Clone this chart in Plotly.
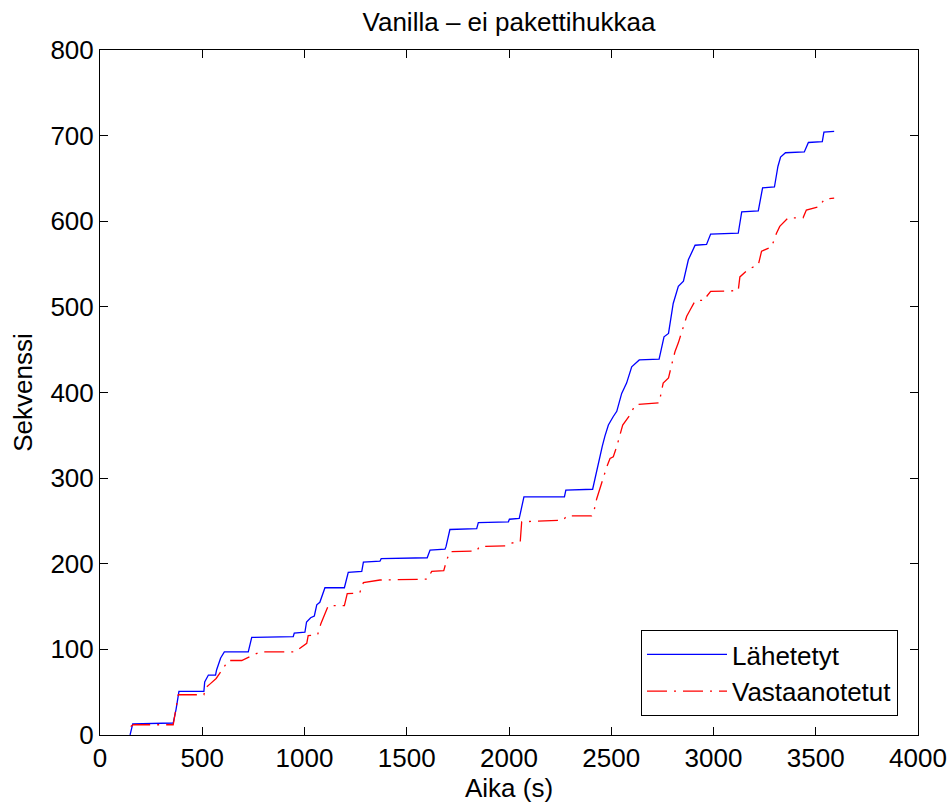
import plotly.graph_objects as go

# Lähetetyt (sent) — time (s), sequence
sent_t = [147, 160, 358, 372, 386, 508, 512, 530, 565, 570, 590, 608, 725, 742, 945, 950,
          1002, 1010, 1030, 1048, 1060, 1075, 1100, 1195, 1214, 1280, 1288, 1369, 1375, 1600,
          1614, 1687, 1692, 1700, 1711, 1842, 1850, 1997, 2002, 2050, 2073, 2271, 2278, 2409,
          2429, 2456, 2469, 2486, 2510, 2527, 2551, 2575, 2600, 2637, 2734, 2758, 2780, 2803,
          2828, 2853, 2877, 2910, 2966, 2986, 3121, 3138, 3219, 3240, 3298, 3315, 3328, 3352,
          3444, 3464, 3532, 3540, 3590]
sent_seq = [0, 13, 14, 30, 51, 51, 62, 70, 70, 76, 90, 97, 97, 114, 115, 119,
            120, 132, 137, 139, 152, 155, 172, 172, 190, 191, 202, 203, 206, 207,
            216, 217, 220, 230, 240, 241, 248, 249, 252, 253, 278, 278, 286, 287,
            310, 337, 349, 362, 372, 378, 399, 411, 430, 438, 439, 465, 469, 504,
            524, 530, 555, 572, 573, 585, 586, 611, 612, 639, 640, 664, 675, 680,
            681, 692, 693, 704, 705]

# Vastaanotetut (received)
recv_t = [150, 163, 358, 370, 383, 508, 515, 540, 568, 603, 627, 693, 720, 782, 953, 970,
          1011, 1018, 1064, 1080, 1116, 1195, 1209, 1270, 1288, 1369, 1600, 1622, 1681, 1695,
          1711, 1842, 1855, 1989, 2010, 2055, 2062, 2266, 2282, 2404, 2415, 2429, 2445, 2462,
          2478, 2494, 2510, 2527, 2543, 2556, 2592, 2616, 2624, 2734, 2754, 2780, 2793, 2812,
          2828, 2845, 2869, 2885, 2910, 2960, 2966, 2986, 3121, 3129, 3170, 3219, 3235, 3284,
          3308, 3324, 3365, 3438, 3454, 3516, 3543, 3590]
recv_seq = [10, 12, 12, 30, 47, 47, 55, 60, 66, 78, 87, 87, 90, 97, 97, 100,
            107, 116, 117, 130, 151, 151, 165, 166, 178, 181, 182, 191, 192, 204,
            214, 215, 220, 221, 224, 226, 249, 251, 256, 256, 261, 276, 289, 300,
            313, 323, 325, 337, 352, 362, 374, 385, 386, 388, 411, 417, 430, 448,
            458, 470, 489, 496, 507, 508, 512, 518, 519, 535, 544, 549, 565, 570,
            586, 594, 604, 604, 613, 617, 626, 627]

FONT = "Liberation Sans, Arial, sans-serif"

fig = go.Figure()
fig.add_trace(go.Scatter(x=sent_t, y=sent_seq, mode="lines", name="Lähetetyt",
                         line=dict(color="#0000ff", width=1.3)))
fig.add_trace(go.Scatter(x=recv_t, y=recv_seq, mode="lines", name="Vastaanotetut",
                         line=dict(color="#ff0000", width=1.3, dash="20px,7px,2px,7px")))

axis_common = dict(showgrid=False, zeroline=False, showline=True, mirror="ticks",
                   linecolor="black", linewidth=1, ticks="inside", ticklen=8,
                   tickcolor="black", automargin=False,
                   tickfont=dict(size=26, color="black", family=FONT))

fig.update_layout(
    width=950, height=804,
    margin=dict(l=100, r=32, t=50, b=69),
    paper_bgcolor="white", plot_bgcolor="white",
    font=dict(family=FONT, size=26, color="black"),
    title=dict(text="Vanilla – ei pakettihukkaa", x=0.5, xref="paper", xanchor="center",
               y=1 - 22 / 804, yref="container", yanchor="middle",
               font=dict(size=26, color="black", family=FONT)),
    xaxis=dict(range=[0, 4000], dtick=500, tick0=0,
               title=dict(text="Aika (s)", standoff=4, font=dict(size=26)), **axis_common),
    yaxis=dict(range=[0, 800], dtick=100, tick0=0,
               title=dict(text="Sekvenssi", standoff=10, font=dict(size=26)), **axis_common),
    legend=dict(x=(898 - 100) / 818, xanchor="right", y=(735 - 716) / 685, yanchor="bottom",
                bgcolor="white", bordercolor="black", borderwidth=1, itemwidth=80,
                tracegroupgap=0,
                font=dict(size=26, color="black", family=FONT)),
    showlegend=True,
)

fig.write_html("out.html")
